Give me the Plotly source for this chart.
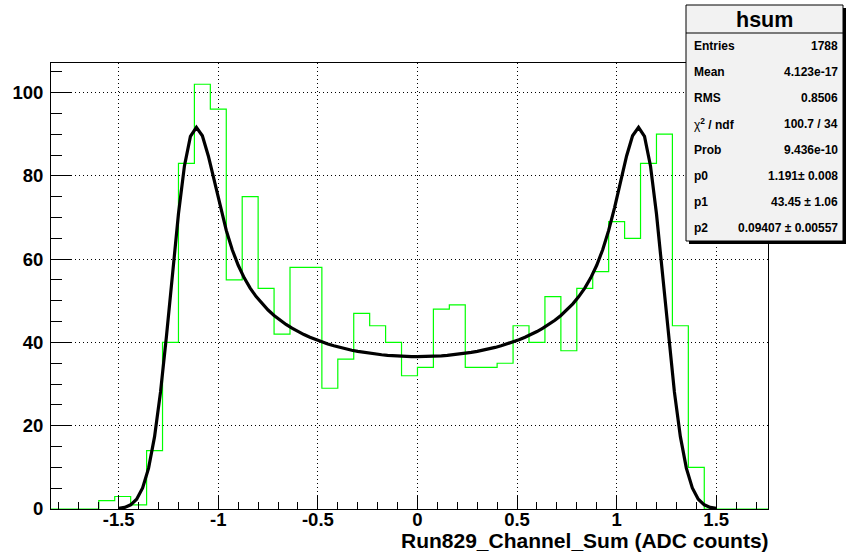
import numpy as np
import plotly.graph_objects as go

# ---- histogram "hsum": 45 bins of width 0.08 starting at -1.84 ----
bin_low = -1.84
bin_width = 0.08
counts = [0, 0, 0, 2, 3, 1, 14, 40, 83, 102, 96, 55, 75, 53, 42, 58, 58, 29,
          36, 47, 44, 40, 32, 34, 48, 49, 34, 34, 35, 44, 40, 51, 38, 53, 57,
          69, 65, 83, 90, 44, 10, 0, 0, 0, 0]

# ---- fit parameters (arcsine shape smeared by a gaussian) ----
fit_p0 = 1.191
fit_p1 = 43.45
fit_p2 = 0.09407
fit_xmin, fit_xmax = -1.5, 1.5
fit_npx = 101
conv_cells = 500          # cells of the numerical convolution over (-p0, p0)

# ---- axes ----
x_tickvals = [-1.5, -1.0, -0.5, 0.0, 0.5, 1.0, 1.5]
x_ticktext = ["-1.5", "-1", "-0.5", "0", "0.5", "1", "1.5"]
y_tickvals = [0, 20, 40, 60, 80, 100]
y_ticktext = ["0", "20", "40", "60", "80", "100"]
x_title = "Run829_Channel_Sum (ADC counts)"

# ---- statistics box ----
stats_title = "hsum"
stats_labels = ["Entries", "Mean", "RMS",
                "<span style='font-weight:normal'>χ</span><sup>2</sup> / ndf",
                "Prob", "p0", "p1", "p2"]
stats_values = ["1788", "4.123e-17", "0.8506", "100.7 / 34", "9.436e-10",
                "1.191± 0.008", "43.45 ± 1.06", "0.09407 ± 0.00557"]

# ---- derived geometry ----
nbins = len(counts)
edges = bin_low + bin_width * np.arange(nbins + 1)
x_lo, x_hi = edges[0], edges[-1]
y_hi = 1.05 * max(counts)

step_x = edges
step_y = np.append(counts, counts[-1])

# fit curve: p1/sqrt(p0^2 - t^2) folded with a gaussian of width p2,
# done as a midpoint sum over cells of the interval (-p0, p0)
fx = np.linspace(fit_xmin, fit_xmax, fit_npx)
h = 2 * fit_p0 / conv_cells
t = -fit_p0 + h * (np.arange(conv_cells) + 0.5)
shape = fit_p1 / np.sqrt(fit_p0 ** 2 - t ** 2)
kern = np.exp(-0.5 * ((fx[:, None] - t[None, :]) / fit_p2) ** 2) / (fit_p2 * np.sqrt(2 * np.pi))
fy = (kern * shape[None, :]).sum(axis=1) * h

W, H = 846, 556
L, R, T, B = 51, 768, 63, 509


def px(xpix):
    return (xpix - L) / (R - L)


def py(ypix):
    return (B - ypix) / (B - T)


FONT = "Liberation Sans, Arial, Helvetica, sans-serif"

fig = go.Figure()
fig.add_trace(go.Scatter(
    x=step_x, y=step_y, mode="lines", line=dict(color="#00ff00", width=1.2, shape="hv"),
    hoverinfo="skip", showlegend=False))
fig.add_trace(go.Scatter(
    x=fx, y=fy, mode="lines", line=dict(color="black", width=3.2),
    hoverinfo="skip", showlegend=False))

axis_common = dict(
    showline=True, linecolor="black", linewidth=1, mirror=True,
    ticks="inside", tickcolor="black", tickwidth=1,
    showgrid=True, gridcolor="black", gridwidth=1, griddash="1px,3px",
    zeroline=False,
    tickfont=dict(family=FONT, size=18.5, color="black", weight="bold"),
    tickmode="array",
)

fig.update_xaxes(
    **axis_common, range=[x_lo, x_hi], tickvals=x_tickvals, ticktext=x_ticktext,
    ticklen=13, ticklabelstandoff=-6,
    minor=dict(ticks="inside", ticklen=7, tickcolor="black", dtick=0.1, tick0=0, showgrid=False),
)
fig.update_yaxes(
    **axis_common, range=[0, y_hi], tickvals=y_tickvals, ticktext=y_ticktext,
    ticklen=21, ticklabelstandoff=3,
    minor=dict(ticks="inside", ticklen=11, tickcolor="black", dtick=5, tick0=0, showgrid=False),
)

shapes = []
annotations = []

# axis title, right aligned at the frame edge
annotations.append(dict(
    text=x_title, xref="paper", yref="paper", x=px(771), y=py(540),
    xanchor="right", yanchor="middle", showarrow=False,
    font=dict(family=FONT, size=21, color="black", weight="bold")))

# stats box
bx0, bx1, by0, by1 = 686, 843, 5, 241
head = 33
shapes.append(dict(type="rect", xref="paper", yref="paper",
                   x0=px(bx0 + 3), x1=px(bx1 + 3), y0=py(by1 + 3), y1=py(by0 + 3),
                   fillcolor="black", line=dict(width=0), layer="above"))
shapes.append(dict(type="rect", xref="paper", yref="paper",
                   x0=px(bx0), x1=px(bx1), y0=py(by1), y1=py(by0),
                   fillcolor="#f2f2f2", line=dict(color="black", width=1), layer="above"))
shapes.append(dict(type="line", xref="paper", yref="paper",
                   x0=px(bx0), x1=px(bx1), y0=py(head), y1=py(head),
                   line=dict(color="black", width=1), layer="above"))
annotations.append(dict(
    text=stats_title, xref="paper", yref="paper", x=px((bx0 + bx1) / 2), y=py((by0 + head) / 2 + 1),
    xanchor="center", yanchor="middle", showarrow=False,
    font=dict(family=FONT, size=21.5, color="black", weight="bold")))
row_h = (by1 - head) / len(stats_labels)
for i, (lab, val) in enumerate(zip(stats_labels, stats_values)):
    yc = head + row_h * (i + 0.5)
    annotations.append(dict(
        text=lab, xref="paper", yref="paper", x=px(692), y=py(yc),
        xanchor="left", yanchor="middle", showarrow=False,
        font=dict(family=FONT, size=12, color="black", weight="bold")))
    annotations.append(dict(
        text=val, xref="paper", yref="paper", x=px(840), y=py(yc),
        xanchor="right", yanchor="middle", showarrow=False,
        font=dict(family=FONT, size=12, color="black", weight="bold")))

fig.update_layout(
    width=W, height=H,
    margin=dict(l=L, r=W - R, t=T, b=H - B, pad=0),
    paper_bgcolor="white", plot_bgcolor="white",
    shapes=shapes, annotations=annotations, showlegend=False,
)

fig.write_html("out.html")
